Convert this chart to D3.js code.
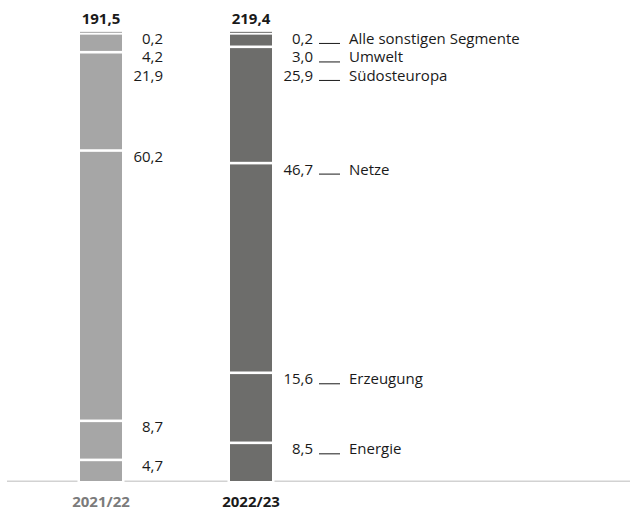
<!DOCTYPE html>
<html>
<head>
<meta charset="utf-8">
<script src="https://cdn.jsdelivr.net/npm/d3@7/dist/d3.min.js"></script>
<style>
  html, body { margin: 0; padding: 0; background: #fff; }
  svg { display: block; font-family: "Open Sans", "Noto Sans", sans-serif; }
</style>
</head>
<body>
<svg id="chart" width="630" height="510"></svg>
<script>
// Data (percent shares, bottom to top)
const segments = ["Energie", "Erzeugung", "Netze", "Südosteuropa", "Umwelt", "Alle sonstigen Segmente"];
const years = ["2021/22", "2022/23"];
const values2122 = [4.7, 8.7, 60.2, 21.9, 4.2, 0.2];
const values2223 = [8.5, 15.6, 46.7, 25.9, 3.0, 0.2];
const totals = ["191,5", "219,4"];
const valueLabels2122 = ["4,7", "8,7", "60,2", "21,9", "4,2", "0,2"];
const valueLabels2223 = ["8,5", "15,6", "46,7", "25,9", "3,0", "0,2"];

const colors = ["#a6a6a6", "#6d6d6b"];
const yearColors = ["#7b7b7b", "#1a1a1a"];

const svg = d3.select("#chart");
const y = d3.scaleLinear().domain([0, 100]).range([481, 32]);
const x = d3.scalePoint().domain(years).range([101, 251]);
const barW = 42;
const gap = 2.6;
const fs = 15;

// baseline
svg.append("line").attr("x1", 7).attr("x2", 630).attr("y1", 481.3).attr("y2", 481.3)
  .attr("stroke", "#d2d2d2").attr("stroke-width", 1.6);

const series = [values2122, values2223];
const labelsArr = [valueLabels2122, valueLabels2223];

series.forEach((vals, si) => {
  const cx = x(years[si]);
  const x0 = cx - barW / 2;
  // white gap in baseline
  svg.append("rect").attr("x", x0 - 2.5).attr("width", barW + 5)
    .attr("y", 479).attr("height", 5).attr("fill", "#fff");

  let cum = 0;
  const segs = vals.map((v, i) => {
    const s = { v, i, start: cum, end: cum + v };
    cum += v;
    return s;
  });

  const g = svg.append("g");
  segs.forEach(s => {
    const yb = y(s.start), yt = y(s.end);
    let top = yt + (s.i === segs.length - 1 ? 0 : gap / 2);
    let bottom = s.i === 0 ? yb : yb - gap / 2;
    let h = bottom - top;
    if (h < 1) { top = yt - 0.6; h = 1; }
    g.append("rect").attr("x", x0).attr("y", top).attr("width", barW).attr("height", h)
      .attr("fill", colors[si]);
  });

  // value labels, stacked top-down with collision avoidance
  const labelX = si === 0 ? 163 : 313;
  let prev = -Infinity;
  const positions = [];
  for (let k = segs.length - 1; k >= 0; k--) {
    const s = segs[k];
    let base = y(s.end) + 11.5;
    base = Math.max(base, prev + 18.5);
    prev = base;
    positions.push({ s, base });
  }
  positions.forEach(p => {
    svg.append("text").attr("x", labelX).attr("y", p.base)
      .attr("text-anchor", "end").attr("font-size", fs).attr("fill", "#1a1a1a")
      .text(labelsArr[si][p.s.i]);
    if (si === 1) {
      svg.append("line").attr("x1", 319).attr("x2", 340)
        .attr("y1", p.base - 0.5).attr("y2", p.base - 0.5)
        .attr("stroke", "#1a1a1a").attr("stroke-width", 1);
      svg.append("text").attr("x", 349).attr("y", p.base)
        .attr("font-size", fs).attr("fill", "#1a1a1a")
        .text(segments[p.s.i]);
    }
  });

  // total on top
  svg.append("text").attr("x", cx).attr("y", 24).attr("text-anchor", "middle")
    .attr("font-size", fs).attr("font-weight", "bold").attr("fill", "#1a1a1a")
    .text(totals[si]);

  // category label
  svg.append("text").attr("x", cx).attr("y", 507).attr("text-anchor", "middle")
    .attr("font-size", fs).attr("font-weight", "bold").attr("fill", yearColors[si])
    .text(years[si]);
});
</script>
</body>
</html>
